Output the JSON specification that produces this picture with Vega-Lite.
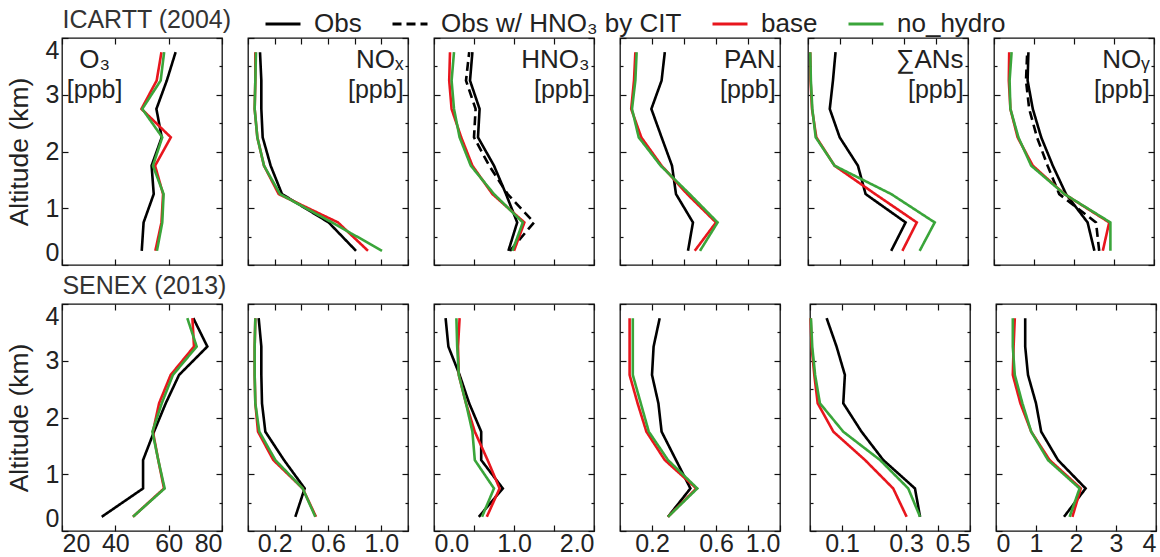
{
"$schema":"https://vega.github.io/schema/vega-lite/v6.json",
"padding":{"left":5,"top":5,"right":0,"bottom":5},
"background":"white",
"datasets":{"profiles":[
{"camp":"ICARTT","spec":"O3","ser":"Obs","alt":0.25,"val":49.9},{"camp":"ICARTT","spec":"O3","ser":"Obs","alt":0.75,"val":50.6},{"camp":"ICARTT","spec":"O3","ser":"Obs","alt":1.25,"val":54.4},{"camp":"ICARTT","spec":"O3","ser":"Obs","alt":1.75,"val":53.6},{"camp":"ICARTT","spec":"O3","ser":"Obs","alt":2.25,"val":57.4},{"camp":"ICARTT","spec":"O3","ser":"Obs","alt":2.75,"val":55.4},{"camp":"ICARTT","spec":"O3","ser":"Obs","alt":3.25,"val":59.3},{"camp":"ICARTT","spec":"O3","ser":"Obs","alt":3.75,"val":62.6},
{"camp":"ICARTT","spec":"O3","ser":"base","alt":0.25,"val":55.0},{"camp":"ICARTT","spec":"O3","ser":"base","alt":0.75,"val":57.3},{"camp":"ICARTT","spec":"O3","ser":"base","alt":1.25,"val":57.9},{"camp":"ICARTT","spec":"O3","ser":"base","alt":1.75,"val":54.9},{"camp":"ICARTT","spec":"O3","ser":"base","alt":2.25,"val":60.8},{"camp":"ICARTT","spec":"O3","ser":"base","alt":2.75,"val":49.8},{"camp":"ICARTT","spec":"O3","ser":"base","alt":3.25,"val":55.5},{"camp":"ICARTT","spec":"O3","ser":"base","alt":3.75,"val":57.3},
{"camp":"ICARTT","spec":"O3","ser":"no_hydro","alt":0.25,"val":55.6},{"camp":"ICARTT","spec":"O3","ser":"no_hydro","alt":0.75,"val":57.6},{"camp":"ICARTT","spec":"O3","ser":"no_hydro","alt":1.25,"val":58.1},{"camp":"ICARTT","spec":"O3","ser":"no_hydro","alt":1.75,"val":54.1},{"camp":"ICARTT","spec":"O3","ser":"no_hydro","alt":2.25,"val":57.6},{"camp":"ICARTT","spec":"O3","ser":"no_hydro","alt":2.75,"val":50.1},{"camp":"ICARTT","spec":"O3","ser":"no_hydro","alt":3.25,"val":57.0},{"camp":"ICARTT","spec":"O3","ser":"no_hydro","alt":3.75,"val":58.3},
{"camp":"ICARTT","spec":"NOx","ser":"Obs","alt":0.25,"val":0.81},{"camp":"ICARTT","spec":"NOx","ser":"Obs","alt":0.75,"val":0.605},{"camp":"ICARTT","spec":"NOx","ser":"Obs","alt":1.25,"val":0.255},{"camp":"ICARTT","spec":"NOx","ser":"Obs","alt":1.75,"val":0.17},{"camp":"ICARTT","spec":"NOx","ser":"Obs","alt":2.25,"val":0.11},{"camp":"ICARTT","spec":"NOx","ser":"Obs","alt":2.75,"val":0.10},{"camp":"ICARTT","spec":"NOx","ser":"Obs","alt":3.25,"val":0.10},{"camp":"ICARTT","spec":"NOx","ser":"Obs","alt":3.75,"val":0.09},
{"camp":"ICARTT","spec":"NOx","ser":"base","alt":0.25,"val":0.90},{"camp":"ICARTT","spec":"NOx","ser":"base","alt":0.75,"val":0.675},{"camp":"ICARTT","spec":"NOx","ser":"base","alt":1.25,"val":0.23},{"camp":"ICARTT","spec":"NOx","ser":"base","alt":1.75,"val":0.12},{"camp":"ICARTT","spec":"NOx","ser":"base","alt":2.25,"val":0.07},{"camp":"ICARTT","spec":"NOx","ser":"base","alt":2.75,"val":0.05},{"camp":"ICARTT","spec":"NOx","ser":"base","alt":3.25,"val":0.055},{"camp":"ICARTT","spec":"NOx","ser":"base","alt":3.75,"val":0.055},
{"camp":"ICARTT","spec":"NOx","ser":"no_hydro","alt":0.25,"val":1.005},{"camp":"ICARTT","spec":"NOx","ser":"no_hydro","alt":0.75,"val":0.63},{"camp":"ICARTT","spec":"NOx","ser":"no_hydro","alt":1.25,"val":0.24},{"camp":"ICARTT","spec":"NOx","ser":"no_hydro","alt":1.75,"val":0.12},{"camp":"ICARTT","spec":"NOx","ser":"no_hydro","alt":2.25,"val":0.07},{"camp":"ICARTT","spec":"NOx","ser":"no_hydro","alt":2.75,"val":0.05},{"camp":"ICARTT","spec":"NOx","ser":"no_hydro","alt":3.25,"val":0.055},{"camp":"ICARTT","spec":"NOx","ser":"no_hydro","alt":3.75,"val":0.06},
{"camp":"ICARTT","spec":"HNO3","ser":"Obs","alt":0.25,"val":0.93},{"camp":"ICARTT","spec":"HNO3","ser":"Obs","alt":0.75,"val":1.04},{"camp":"ICARTT","spec":"HNO3","ser":"Obs","alt":1.25,"val":0.90},{"camp":"ICARTT","spec":"HNO3","ser":"Obs","alt":1.75,"val":0.75},{"camp":"ICARTT","spec":"HNO3","ser":"Obs","alt":2.25,"val":0.55},{"camp":"ICARTT","spec":"HNO3","ser":"Obs","alt":2.75,"val":0.57},{"camp":"ICARTT","spec":"HNO3","ser":"Obs","alt":3.25,"val":0.45},{"camp":"ICARTT","spec":"HNO3","ser":"Obs","alt":3.75,"val":0.48},
{"camp":"ICARTT","spec":"HNO3","ser":"Obs w/ HNO₃ by CIT","alt":0.25,"val":0.95},{"camp":"ICARTT","spec":"HNO3","ser":"Obs w/ HNO₃ by CIT","alt":0.75,"val":1.25},{"camp":"ICARTT","spec":"HNO3","ser":"Obs w/ HNO₃ by CIT","alt":1.25,"val":0.92},{"camp":"ICARTT","spec":"HNO3","ser":"Obs w/ HNO₃ by CIT","alt":1.75,"val":0.69},{"camp":"ICARTT","spec":"HNO3","ser":"Obs w/ HNO₃ by CIT","alt":2.25,"val":0.50},{"camp":"ICARTT","spec":"HNO3","ser":"Obs w/ HNO₃ by CIT","alt":2.75,"val":0.52},{"camp":"ICARTT","spec":"HNO3","ser":"Obs w/ HNO₃ by CIT","alt":3.25,"val":0.40},{"camp":"ICARTT","spec":"HNO3","ser":"Obs w/ HNO₃ by CIT","alt":3.75,"val":0.44},
{"camp":"ICARTT","spec":"HNO3","ser":"base","alt":0.25,"val":1.00},{"camp":"ICARTT","spec":"HNO3","ser":"base","alt":0.75,"val":1.13},{"camp":"ICARTT","spec":"HNO3","ser":"base","alt":1.25,"val":0.73},{"camp":"ICARTT","spec":"HNO3","ser":"base","alt":1.75,"val":0.48},{"camp":"ICARTT","spec":"HNO3","ser":"base","alt":2.25,"val":0.34},{"camp":"ICARTT","spec":"HNO3","ser":"base","alt":2.75,"val":0.22},{"camp":"ICARTT","spec":"HNO3","ser":"base","alt":3.25,"val":0.19},{"camp":"ICARTT","spec":"HNO3","ser":"base","alt":3.75,"val":0.20},
{"camp":"ICARTT","spec":"HNO3","ser":"no_hydro","alt":0.25,"val":0.98},{"camp":"ICARTT","spec":"HNO3","ser":"no_hydro","alt":0.75,"val":1.11},{"camp":"ICARTT","spec":"HNO3","ser":"no_hydro","alt":1.25,"val":0.75},{"camp":"ICARTT","spec":"HNO3","ser":"no_hydro","alt":1.75,"val":0.46},{"camp":"ICARTT","spec":"HNO3","ser":"no_hydro","alt":2.25,"val":0.32},{"camp":"ICARTT","spec":"HNO3","ser":"no_hydro","alt":2.75,"val":0.25},{"camp":"ICARTT","spec":"HNO3","ser":"no_hydro","alt":3.25,"val":0.22},{"camp":"ICARTT","spec":"HNO3","ser":"no_hydro","alt":3.75,"val":0.25},
{"camp":"ICARTT","spec":"PAN","ser":"Obs","alt":0.25,"val":0.425},{"camp":"ICARTT","spec":"PAN","ser":"Obs","alt":0.75,"val":0.456},{"camp":"ICARTT","spec":"PAN","ser":"Obs","alt":1.25,"val":0.35},{"camp":"ICARTT","spec":"PAN","ser":"Obs","alt":1.75,"val":0.325},{"camp":"ICARTT","spec":"PAN","ser":"Obs","alt":2.25,"val":0.26},{"camp":"ICARTT","spec":"PAN","ser":"Obs","alt":2.75,"val":0.196},{"camp":"ICARTT","spec":"PAN","ser":"Obs","alt":3.25,"val":0.26},{"camp":"ICARTT","spec":"PAN","ser":"Obs","alt":3.75,"val":0.28},
{"camp":"ICARTT","spec":"PAN","ser":"base","alt":0.25,"val":0.467},{"camp":"ICARTT","spec":"PAN","ser":"base","alt":0.75,"val":0.60},{"camp":"ICARTT","spec":"PAN","ser":"base","alt":1.25,"val":0.42},{"camp":"ICARTT","spec":"PAN","ser":"base","alt":1.75,"val":0.26},{"camp":"ICARTT","spec":"PAN","ser":"base","alt":2.25,"val":0.133},{"camp":"ICARTT","spec":"PAN","ser":"base","alt":2.75,"val":0.07},{"camp":"ICARTT","spec":"PAN","ser":"base","alt":3.25,"val":0.0875},{"camp":"ICARTT","spec":"PAN","ser":"base","alt":3.75,"val":0.096},
{"camp":"ICARTT","spec":"PAN","ser":"no_hydro","alt":0.25,"val":0.50},{"camp":"ICARTT","spec":"PAN","ser":"no_hydro","alt":0.75,"val":0.61},{"camp":"ICARTT","spec":"PAN","ser":"no_hydro","alt":1.25,"val":0.435},{"camp":"ICARTT","spec":"PAN","ser":"no_hydro","alt":1.75,"val":0.254},{"camp":"ICARTT","spec":"PAN","ser":"no_hydro","alt":2.25,"val":0.117},{"camp":"ICARTT","spec":"PAN","ser":"no_hydro","alt":2.75,"val":0.075},{"camp":"ICARTT","spec":"PAN","ser":"no_hydro","alt":3.25,"val":0.096},{"camp":"ICARTT","spec":"PAN","ser":"no_hydro","alt":3.75,"val":0.104},
{"camp":"ICARTT","spec":"ANs","ser":"Obs","alt":0.25,"val":0.26},{"camp":"ICARTT","spec":"ANs","ser":"Obs","alt":0.75,"val":0.305},{"camp":"ICARTT","spec":"ANs","ser":"Obs","alt":1.25,"val":0.18},{"camp":"ICARTT","spec":"ANs","ser":"Obs","alt":1.75,"val":0.156},{"camp":"ICARTT","spec":"ANs","ser":"Obs","alt":2.25,"val":0.099},{"camp":"ICARTT","spec":"ANs","ser":"Obs","alt":2.75,"val":0.068},{"camp":"ICARTT","spec":"ANs","ser":"Obs","alt":3.25,"val":0.078},{"camp":"ICARTT","spec":"ANs","ser":"Obs","alt":3.75,"val":0.086},
{"camp":"ICARTT","spec":"ANs","ser":"base","alt":0.25,"val":0.295},{"camp":"ICARTT","spec":"ANs","ser":"base","alt":0.75,"val":0.34},{"camp":"ICARTT","spec":"ANs","ser":"base","alt":1.25,"val":0.21},{"camp":"ICARTT","spec":"ANs","ser":"base","alt":1.75,"val":0.083},{"camp":"ICARTT","spec":"ANs","ser":"base","alt":2.25,"val":0.026},{"camp":"ICARTT","spec":"ANs","ser":"base","alt":2.75,"val":0.0125},{"camp":"ICARTT","spec":"ANs","ser":"base","alt":3.25,"val":0.008},{"camp":"ICARTT","spec":"ANs","ser":"base","alt":3.75,"val":0.007},
{"camp":"ICARTT","spec":"ANs","ser":"no_hydro","alt":0.25,"val":0.349},{"camp":"ICARTT","spec":"ANs","ser":"no_hydro","alt":0.75,"val":0.396},{"camp":"ICARTT","spec":"ANs","ser":"no_hydro","alt":1.25,"val":0.26},{"camp":"ICARTT","spec":"ANs","ser":"no_hydro","alt":1.75,"val":0.083},{"camp":"ICARTT","spec":"ANs","ser":"no_hydro","alt":2.25,"val":0.024},{"camp":"ICARTT","spec":"ANs","ser":"no_hydro","alt":2.75,"val":0.0135},{"camp":"ICARTT","spec":"ANs","ser":"no_hydro","alt":3.25,"val":0.009},{"camp":"ICARTT","spec":"ANs","ser":"no_hydro","alt":3.75,"val":0.007},
{"camp":"ICARTT","spec":"NOy","ser":"Obs","alt":0.25,"val":2.51},{"camp":"ICARTT","spec":"NOy","ser":"Obs","alt":0.75,"val":2.34},{"camp":"ICARTT","spec":"NOy","ser":"Obs","alt":1.25,"val":1.80},{"camp":"ICARTT","spec":"NOy","ser":"Obs","alt":1.75,"val":1.47},{"camp":"ICARTT","spec":"NOy","ser":"Obs","alt":2.25,"val":1.18},{"camp":"ICARTT","spec":"NOy","ser":"Obs","alt":2.75,"val":0.97},{"camp":"ICARTT","spec":"NOy","ser":"Obs","alt":3.25,"val":0.84},{"camp":"ICARTT","spec":"NOy","ser":"Obs","alt":3.75,"val":0.86},
{"camp":"ICARTT","spec":"NOy","ser":"Obs w/ HNO₃ by CIT","alt":0.25,"val":2.63},{"camp":"ICARTT","spec":"NOy","ser":"Obs w/ HNO₃ by CIT","alt":0.75,"val":2.55},{"camp":"ICARTT","spec":"NOy","ser":"Obs w/ HNO₃ by CIT","alt":1.25,"val":1.63},{"camp":"ICARTT","spec":"NOy","ser":"Obs w/ HNO₃ by CIT","alt":1.75,"val":1.34},{"camp":"ICARTT","spec":"NOy","ser":"Obs w/ HNO₃ by CIT","alt":2.25,"val":1.075},{"camp":"ICARTT","spec":"NOy","ser":"Obs w/ HNO₃ by CIT","alt":2.75,"val":0.88},{"camp":"ICARTT","spec":"NOy","ser":"Obs w/ HNO₃ by CIT","alt":3.25,"val":0.80},{"camp":"ICARTT","spec":"NOy","ser":"Obs w/ HNO₃ by CIT","alt":3.75,"val":0.83},
{"camp":"ICARTT","spec":"NOy","ser":"base","alt":0.25,"val":2.72},{"camp":"ICARTT","spec":"NOy","ser":"base","alt":0.75,"val":2.88},{"camp":"ICARTT","spec":"NOy","ser":"base","alt":1.25,"val":1.76},{"camp":"ICARTT","spec":"NOy","ser":"base","alt":1.75,"val":0.97},{"camp":"ICARTT","spec":"NOy","ser":"base","alt":2.25,"val":0.59},{"camp":"ICARTT","spec":"NOy","ser":"base","alt":2.75,"val":0.41},{"camp":"ICARTT","spec":"NOy","ser":"base","alt":3.25,"val":0.37},{"camp":"ICARTT","spec":"NOy","ser":"base","alt":3.75,"val":0.38},
{"camp":"ICARTT","spec":"NOy","ser":"no_hydro","alt":0.25,"val":2.91},{"camp":"ICARTT","spec":"NOy","ser":"no_hydro","alt":0.75,"val":2.91},{"camp":"ICARTT","spec":"NOy","ser":"no_hydro","alt":1.25,"val":1.76},{"camp":"ICARTT","spec":"NOy","ser":"no_hydro","alt":1.75,"val":0.93},{"camp":"ICARTT","spec":"NOy","ser":"no_hydro","alt":2.25,"val":0.61},{"camp":"ICARTT","spec":"NOy","ser":"no_hydro","alt":2.75,"val":0.41},{"camp":"ICARTT","spec":"NOy","ser":"no_hydro","alt":3.25,"val":0.39},{"camp":"ICARTT","spec":"NOy","ser":"no_hydro","alt":3.75,"val":0.44},
{"camp":"SENEX","spec":"O3","ser":"Obs","alt":0.25,"val":34.9},{"camp":"SENEX","spec":"O3","ser":"Obs","alt":0.75,"val":50.4},{"camp":"SENEX","spec":"O3","ser":"Obs","alt":1.25,"val":50.4},{"camp":"SENEX","spec":"O3","ser":"Obs","alt":1.75,"val":54.5},{"camp":"SENEX","spec":"O3","ser":"Obs","alt":2.25,"val":58.9},{"camp":"SENEX","spec":"O3","ser":"Obs","alt":2.75,"val":63.9},{"camp":"SENEX","spec":"O3","ser":"Obs","alt":3.25,"val":74.5},{"camp":"SENEX","spec":"O3","ser":"Obs","alt":3.75,"val":69.25},
{"camp":"SENEX","spec":"O3","ser":"base","alt":0.25,"val":46.6},{"camp":"SENEX","spec":"O3","ser":"base","alt":0.75,"val":58.25},{"camp":"SENEX","spec":"O3","ser":"base","alt":1.25,"val":56.1},{"camp":"SENEX","spec":"O3","ser":"base","alt":1.75,"val":54.1},{"camp":"SENEX","spec":"O3","ser":"base","alt":2.25,"val":56.4},{"camp":"SENEX","spec":"O3","ser":"base","alt":2.75,"val":60.75},{"camp":"SENEX","spec":"O3","ser":"base","alt":3.25,"val":69.5},{"camp":"SENEX","spec":"O3","ser":"base","alt":3.75,"val":68.9},
{"camp":"SENEX","spec":"O3","ser":"no_hydro","alt":0.25,"val":46.6},{"camp":"SENEX","spec":"O3","ser":"no_hydro","alt":0.75,"val":58.5},{"camp":"SENEX","spec":"O3","ser":"no_hydro","alt":1.25,"val":56.1},{"camp":"SENEX","spec":"O3","ser":"no_hydro","alt":1.75,"val":53.9},{"camp":"SENEX","spec":"O3","ser":"no_hydro","alt":2.25,"val":57.4},{"camp":"SENEX","spec":"O3","ser":"no_hydro","alt":2.75,"val":61.6},{"camp":"SENEX","spec":"O3","ser":"no_hydro","alt":3.25,"val":70.5},{"camp":"SENEX","spec":"O3","ser":"no_hydro","alt":3.75,"val":67.0},
{"camp":"SENEX","spec":"NOx","ser":"Obs","alt":0.25,"val":0.355},{"camp":"SENEX","spec":"NOx","ser":"Obs","alt":0.75,"val":0.425},{"camp":"SENEX","spec":"NOx","ser":"Obs","alt":1.25,"val":0.27},{"camp":"SENEX","spec":"NOx","ser":"Obs","alt":1.75,"val":0.13},{"camp":"SENEX","spec":"NOx","ser":"Obs","alt":2.25,"val":0.105},{"camp":"SENEX","spec":"NOx","ser":"Obs","alt":2.75,"val":0.10},{"camp":"SENEX","spec":"NOx","ser":"Obs","alt":3.25,"val":0.10},{"camp":"SENEX","spec":"NOx","ser":"Obs","alt":3.75,"val":0.08},
{"camp":"SENEX","spec":"NOx","ser":"base","alt":0.25,"val":0.51},{"camp":"SENEX","spec":"NOx","ser":"base","alt":0.75,"val":0.41},{"camp":"SENEX","spec":"NOx","ser":"base","alt":1.25,"val":0.19},{"camp":"SENEX","spec":"NOx","ser":"base","alt":1.75,"val":0.075},{"camp":"SENEX","spec":"NOx","ser":"base","alt":2.25,"val":0.055},{"camp":"SENEX","spec":"NOx","ser":"base","alt":2.75,"val":0.05},{"camp":"SENEX","spec":"NOx","ser":"base","alt":3.25,"val":0.05},{"camp":"SENEX","spec":"NOx","ser":"base","alt":3.75,"val":0.055},
{"camp":"SENEX","spec":"NOx","ser":"no_hydro","alt":0.25,"val":0.505},{"camp":"SENEX","spec":"NOx","ser":"no_hydro","alt":0.75,"val":0.41},{"camp":"SENEX","spec":"NOx","ser":"no_hydro","alt":1.25,"val":0.205},{"camp":"SENEX","spec":"NOx","ser":"no_hydro","alt":1.75,"val":0.085},{"camp":"SENEX","spec":"NOx","ser":"no_hydro","alt":2.25,"val":0.055},{"camp":"SENEX","spec":"NOx","ser":"no_hydro","alt":2.75,"val":0.05},{"camp":"SENEX","spec":"NOx","ser":"no_hydro","alt":3.25,"val":0.05},{"camp":"SENEX","spec":"NOx","ser":"no_hydro","alt":3.75,"val":0.055},
{"camp":"SENEX","spec":"HNO3","ser":"Obs","alt":0.25,"val":0.56},{"camp":"SENEX","spec":"HNO3","ser":"Obs","alt":0.75,"val":0.86},{"camp":"SENEX","spec":"HNO3","ser":"Obs","alt":1.25,"val":0.59},{"camp":"SENEX","spec":"HNO3","ser":"Obs","alt":1.75,"val":0.59},{"camp":"SENEX","spec":"HNO3","ser":"Obs","alt":2.25,"val":0.44},{"camp":"SENEX","spec":"HNO3","ser":"Obs","alt":2.75,"val":0.32},{"camp":"SENEX","spec":"HNO3","ser":"Obs","alt":3.25,"val":0.18},{"camp":"SENEX","spec":"HNO3","ser":"Obs","alt":3.75,"val":0.145},
{"camp":"SENEX","spec":"HNO3","ser":"base","alt":0.25,"val":0.66},{"camp":"SENEX","spec":"HNO3","ser":"base","alt":0.75,"val":0.82},{"camp":"SENEX","spec":"HNO3","ser":"base","alt":1.25,"val":0.67},{"camp":"SENEX","spec":"HNO3","ser":"base","alt":1.75,"val":0.51},{"camp":"SENEX","spec":"HNO3","ser":"base","alt":2.25,"val":0.40},{"camp":"SENEX","spec":"HNO3","ser":"base","alt":2.75,"val":0.31},{"camp":"SENEX","spec":"HNO3","ser":"base","alt":3.25,"val":0.30},{"camp":"SENEX","spec":"HNO3","ser":"base","alt":3.75,"val":0.32},
{"camp":"SENEX","spec":"HNO3","ser":"no_hydro","alt":0.25,"val":0.60},{"camp":"SENEX","spec":"HNO3","ser":"no_hydro","alt":0.75,"val":0.75},{"camp":"SENEX","spec":"HNO3","ser":"no_hydro","alt":1.25,"val":0.51},{"camp":"SENEX","spec":"HNO3","ser":"no_hydro","alt":1.75,"val":0.48},{"camp":"SENEX","spec":"HNO3","ser":"no_hydro","alt":2.25,"val":0.40},{"camp":"SENEX","spec":"HNO3","ser":"no_hydro","alt":2.75,"val":0.31},{"camp":"SENEX","spec":"HNO3","ser":"no_hydro","alt":3.25,"val":0.29},{"camp":"SENEX","spec":"HNO3","ser":"no_hydro","alt":3.75,"val":0.28},
{"camp":"SENEX","spec":"PAN","ser":"Obs","alt":0.25,"val":0.30},{"camp":"SENEX","spec":"PAN","ser":"Obs","alt":0.75,"val":0.44},{"camp":"SENEX","spec":"PAN","ser":"Obs","alt":1.25,"val":0.35},{"camp":"SENEX","spec":"PAN","ser":"Obs","alt":1.75,"val":0.26},{"camp":"SENEX","spec":"PAN","ser":"Obs","alt":2.25,"val":0.24},{"camp":"SENEX","spec":"PAN","ser":"Obs","alt":2.75,"val":0.20},{"camp":"SENEX","spec":"PAN","ser":"Obs","alt":3.25,"val":0.21},{"camp":"SENEX","spec":"PAN","ser":"Obs","alt":3.75,"val":0.248},
{"camp":"SENEX","spec":"PAN","ser":"base","alt":0.25,"val":0.30},{"camp":"SENEX","spec":"PAN","ser":"base","alt":0.75,"val":0.477},{"camp":"SENEX","spec":"PAN","ser":"base","alt":1.25,"val":0.28},{"camp":"SENEX","spec":"PAN","ser":"base","alt":1.75,"val":0.165},{"camp":"SENEX","spec":"PAN","ser":"base","alt":2.25,"val":0.11},{"camp":"SENEX","spec":"PAN","ser":"base","alt":2.75,"val":0.06},{"camp":"SENEX","spec":"PAN","ser":"base","alt":3.25,"val":0.06},{"camp":"SENEX","spec":"PAN","ser":"base","alt":3.75,"val":0.06},
{"camp":"SENEX","spec":"PAN","ser":"no_hydro","alt":0.25,"val":0.30},{"camp":"SENEX","spec":"PAN","ser":"no_hydro","alt":0.75,"val":0.483},{"camp":"SENEX","spec":"PAN","ser":"no_hydro","alt":1.25,"val":0.30},{"camp":"SENEX","spec":"PAN","ser":"no_hydro","alt":1.75,"val":0.18},{"camp":"SENEX","spec":"PAN","ser":"no_hydro","alt":2.25,"val":0.13},{"camp":"SENEX","spec":"PAN","ser":"no_hydro","alt":2.75,"val":0.08},{"camp":"SENEX","spec":"PAN","ser":"no_hydro","alt":3.25,"val":0.08},{"camp":"SENEX","spec":"PAN","ser":"no_hydro","alt":3.75,"val":0.08},
{"camp":"SENEX","spec":"ANs","ser":"Obs","alt":0.25,"val":0.344},{"camp":"SENEX","spec":"ANs","ser":"Obs","alt":0.75,"val":0.328},{"camp":"SENEX","spec":"ANs","ser":"Obs","alt":1.25,"val":0.229},{"camp":"SENEX","spec":"ANs","ser":"Obs","alt":1.75,"val":0.161},{"camp":"SENEX","spec":"ANs","ser":"Obs","alt":2.25,"val":0.104},{"camp":"SENEX","spec":"ANs","ser":"Obs","alt":2.75,"val":0.109},{"camp":"SENEX","spec":"ANs","ser":"Obs","alt":3.25,"val":0.083},{"camp":"SENEX","spec":"ANs","ser":"Obs","alt":3.75,"val":0.052},
{"camp":"SENEX","spec":"ANs","ser":"base","alt":0.25,"val":0.302},{"camp":"SENEX","spec":"ANs","ser":"base","alt":0.75,"val":0.26},{"camp":"SENEX","spec":"ANs","ser":"base","alt":1.25,"val":0.172},{"camp":"SENEX","spec":"ANs","ser":"base","alt":1.75,"val":0.073},{"camp":"SENEX","spec":"ANs","ser":"base","alt":2.25,"val":0.024},{"camp":"SENEX","spec":"ANs","ser":"base","alt":2.75,"val":0.0135},{"camp":"SENEX","spec":"ANs","ser":"base","alt":3.25,"val":0.005},{"camp":"SENEX","spec":"ANs","ser":"base","alt":3.75,"val":0.002},
{"camp":"SENEX","spec":"ANs","ser":"no_hydro","alt":0.25,"val":0.344},{"camp":"SENEX","spec":"ANs","ser":"no_hydro","alt":0.75,"val":0.307},{"camp":"SENEX","spec":"ANs","ser":"no_hydro","alt":1.25,"val":0.219},{"camp":"SENEX","spec":"ANs","ser":"no_hydro","alt":1.75,"val":0.104},{"camp":"SENEX","spec":"ANs","ser":"no_hydro","alt":2.25,"val":0.031},{"camp":"SENEX","spec":"ANs","ser":"no_hydro","alt":2.75,"val":0.016},{"camp":"SENEX","spec":"ANs","ser":"no_hydro","alt":3.25,"val":0.007},{"camp":"SENEX","spec":"ANs","ser":"no_hydro","alt":3.75,"val":0.003},
{"camp":"SENEX","spec":"NOy","ser":"Obs","alt":0.25,"val":1.70},{"camp":"SENEX","spec":"NOy","ser":"Obs","alt":0.75,"val":2.24},{"camp":"SENEX","spec":"NOy","ser":"Obs","alt":1.25,"val":1.55},{"camp":"SENEX","spec":"NOy","ser":"Obs","alt":1.75,"val":1.13},{"camp":"SENEX","spec":"NOy","ser":"Obs","alt":2.25,"val":1.00},{"camp":"SENEX","spec":"NOy","ser":"Obs","alt":2.75,"val":0.80},{"camp":"SENEX","spec":"NOy","ser":"Obs","alt":3.25,"val":0.73},{"camp":"SENEX","spec":"NOy","ser":"Obs","alt":3.75,"val":0.73},
{"camp":"SENEX","spec":"NOy","ser":"base","alt":0.25,"val":1.91},{"camp":"SENEX","spec":"NOy","ser":"base","alt":0.75,"val":2.12},{"camp":"SENEX","spec":"NOy","ser":"base","alt":1.25,"val":1.34},{"camp":"SENEX","spec":"NOy","ser":"base","alt":1.75,"val":0.88},{"camp":"SENEX","spec":"NOy","ser":"base","alt":2.25,"val":0.61},{"camp":"SENEX","spec":"NOy","ser":"base","alt":2.75,"val":0.42},{"camp":"SENEX","spec":"NOy","ser":"base","alt":3.25,"val":0.44},{"camp":"SENEX","spec":"NOy","ser":"base","alt":3.75,"val":0.47},
{"camp":"SENEX","spec":"NOy","ser":"no_hydro","alt":0.25,"val":1.84},{"camp":"SENEX","spec":"NOy","ser":"no_hydro","alt":0.75,"val":2.09},{"camp":"SENEX","spec":"NOy","ser":"no_hydro","alt":1.25,"val":1.30},{"camp":"SENEX","spec":"NOy","ser":"no_hydro","alt":1.75,"val":0.88},{"camp":"SENEX","spec":"NOy","ser":"no_hydro","alt":2.25,"val":0.66},{"camp":"SENEX","spec":"NOy","ser":"no_hydro","alt":2.75,"val":0.47},{"camp":"SENEX","spec":"NOy","ser":"no_hydro","alt":3.25,"val":0.42},{"camp":"SENEX","spec":"NOy","ser":"no_hydro","alt":3.75,"val":0.42}
]},
"data":{"name":"profiles"},
"spacing":6,
"vconcat":[
{"title":{"text":"ICARTT (2004)","anchor":"start","offset":4,"dx":57},
 "spacing":22,
 "hconcat":[
  {"width":160,"height":227,
   "title":{"text":"O₃","subtitle":"[ppb]","anchor":"end","align":"center","dx":-128,"offset":-66,"fontSize":26,"subtitleFontSize":25,"color":"#222","subtitleColor":"#222","subtitlePadding":5},
   "transform":[{"filter":"datum.camp === 'ICARTT' && datum.spec === 'O3'"}],
   "layer":[
    {"mark":{"type":"line","strokeWidth":2.6},
     "encoding":{
      "x":{"field":"val","type":"quantitative","title":null,"scale":{"domain":[20,80],"nice":false,"zero":false},"axis":{"orient":"bottom","labels":false,"tickValues":[20,22,24,26,28,30,32,34,36,38,40,42,44,46,48,50,52,54,56,58,60,62,64,66,68,70,72,74,76,78,80],"tickSize":{"condition":{"test":"datum.value % 10 === 0","value":-6},"value":-3}}},
      "y":{"field":"alt","type":"quantitative","scale":{"domain":[0,4],"nice":false},"axis":{"orient":"left","title":"Altitude (km)","tickValues":[0,0.25,0.5,0.75,1,1.25,1.5,1.75,2,2.25,2.5,2.75,3,3.25,3.5,3.75,4],"tickSize":{"condition":{"test":"datum.value % 1 === 0","value":-6},"value":-3},"labelExpr":"datum.value % 1 === 0 ? datum.label : ''","format":"d"}},
      "color":{"field":"ser","type":"nominal","title":null,"scale":{"domain":["Obs","Obs w/ HNO₃ by CIT","base","no_hydro"],"range":["#000000","#000000","#e8161d","#3aa53a"]}},
      "strokeDash":{"field":"ser","type":"nominal","title":null,"scale":{"domain":["Obs","Obs w/ HNO₃ by CIT","base","no_hydro"],"range":[[1,0],[9,5],[1,0],[1,0]]}},
      "order":{"field":"alt","type":"quantitative"}}},
    {"mark":{"type":"point","opacity":0},
     "encoding":{
      "x":{"field":"val","type":"quantitative","title":null,"axis":{"orient":"top","labels":false,"tickValues":[20,22,24,26,28,30,32,34,36,38,40,42,44,46,48,50,52,54,56,58,60,62,64,66,68,70,72,74,76,78,80],"tickSize":{"condition":{"test":"datum.value % 10 === 0","value":-6},"value":-3}}},
      "y":{"field":"alt","type":"quantitative","title":null,"axis":{"orient":"right","labels":false,"tickValues":[0,0.25,0.5,0.75,1,1.25,1.5,1.75,2,2.25,2.5,2.75,3,3.25,3.5,3.75,4],"tickSize":{"condition":{"test":"datum.value % 1 === 0","value":-6},"value":-3}}}}}
   ],
   "resolve":{"axis":{"x":"independent","y":"independent"}}
  },
  {"width":160,"height":227,
   "title":{"text":"NOₓ","subtitle":"[ppb]","anchor":"end","align":"right","dx":-5,"offset":-66,"fontSize":26,"subtitleFontSize":25,"color":"#222","subtitleColor":"#222","subtitlePadding":5},
   "transform":[{"filter":"datum.camp === 'ICARTT' && datum.spec === 'NOx'"}],
   "layer":[
    {"mark":{"type":"line","strokeWidth":2.6},
     "encoding":{
      "x":{"field":"val","type":"quantitative","title":null,"scale":{"domain":[0,1.2],"nice":false,"zero":false},"axis":{"orient":"bottom","labels":false,"tickValues":[0,0.05,0.1,0.15,0.2,0.25,0.3,0.35,0.4,0.45,0.5,0.55,0.6,0.65,0.7,0.75,0.8,0.85,0.9,0.95,1,1.05,1.1,1.15,1.2],"tickSize":{"condition":{"test":"abs(datum.value*5 - round(datum.value*5)) < 1e-6","value":-6},"value":-3}}},
      "y":{"field":"alt","type":"quantitative","scale":{"domain":[0,4],"nice":false},"axis":{"orient":"left","title":null,"labels":false,"tickValues":[0,0.25,0.5,0.75,1,1.25,1.5,1.75,2,2.25,2.5,2.75,3,3.25,3.5,3.75,4],"tickSize":{"condition":{"test":"datum.value % 1 === 0","value":-6},"value":-3}}},
      "color":{"field":"ser","type":"nominal","title":null,"scale":{"domain":["Obs","Obs w/ HNO₃ by CIT","base","no_hydro"],"range":["#000000","#000000","#e8161d","#3aa53a"]}},
      "strokeDash":{"field":"ser","type":"nominal","title":null,"scale":{"domain":["Obs","Obs w/ HNO₃ by CIT","base","no_hydro"],"range":[[1,0],[9,5],[1,0],[1,0]]}},
      "order":{"field":"alt","type":"quantitative"}}},
    {"mark":{"type":"point","opacity":0},
     "encoding":{
      "x":{"field":"val","type":"quantitative","title":null,"axis":{"orient":"top","labels":false,"tickValues":[0,0.05,0.1,0.15,0.2,0.25,0.3,0.35,0.4,0.45,0.5,0.55,0.6,0.65,0.7,0.75,0.8,0.85,0.9,0.95,1,1.05,1.1,1.15,1.2],"tickSize":{"condition":{"test":"abs(datum.value*5 - round(datum.value*5)) < 1e-6","value":-6},"value":-3}}},
      "y":{"field":"alt","type":"quantitative","title":null,"axis":{"orient":"right","labels":false,"tickValues":[0,0.25,0.5,0.75,1,1.25,1.5,1.75,2,2.25,2.5,2.75,3,3.25,3.5,3.75,4],"tickSize":{"condition":{"test":"datum.value % 1 === 0","value":-6},"value":-3}}}}}
   ],
   "resolve":{"axis":{"x":"independent","y":"independent"}}
  },
  {"width":160,"height":227,
   "title":{"text":"HNO₃","subtitle":"[ppb]","anchor":"end","align":"right","dx":-5,"offset":-66,"fontSize":26,"subtitleFontSize":25,"color":"#222","subtitleColor":"#222","subtitlePadding":5},
   "transform":[{"filter":"datum.camp === 'ICARTT' && datum.spec === 'HNO3'"}],
   "layer":[
    {"mark":{"type":"line","strokeWidth":2.6},
     "encoding":{
      "x":{"field":"val","type":"quantitative","title":null,"scale":{"domain":[0,2],"nice":false,"zero":false},"axis":{"orient":"bottom","labels":false,"tickValues":[0,0.1,0.2,0.3,0.4,0.5,0.6,0.7,0.8,0.9,1,1.1,1.2,1.3,1.4,1.5,1.6,1.7,1.8,1.9,2],"tickSize":{"condition":{"test":"abs(datum.value*2 - round(datum.value*2)) < 1e-6","value":-6},"value":-3}}},
      "y":{"field":"alt","type":"quantitative","scale":{"domain":[0,4],"nice":false},"axis":{"orient":"left","title":null,"labels":false,"tickValues":[0,0.25,0.5,0.75,1,1.25,1.5,1.75,2,2.25,2.5,2.75,3,3.25,3.5,3.75,4],"tickSize":{"condition":{"test":"datum.value % 1 === 0","value":-6},"value":-3}}},
      "color":{"field":"ser","type":"nominal","title":null,"scale":{"domain":["Obs","Obs w/ HNO₃ by CIT","base","no_hydro"],"range":["#000000","#000000","#e8161d","#3aa53a"]}},
      "strokeDash":{"field":"ser","type":"nominal","title":null,"scale":{"domain":["Obs","Obs w/ HNO₃ by CIT","base","no_hydro"],"range":[[1,0],[9,5],[1,0],[1,0]]}},
      "order":{"field":"alt","type":"quantitative"}}},
    {"mark":{"type":"point","opacity":0},
     "encoding":{
      "x":{"field":"val","type":"quantitative","title":null,"axis":{"orient":"top","labels":false,"tickValues":[0,0.1,0.2,0.3,0.4,0.5,0.6,0.7,0.8,0.9,1,1.1,1.2,1.3,1.4,1.5,1.6,1.7,1.8,1.9,2],"tickSize":{"condition":{"test":"abs(datum.value*2 - round(datum.value*2)) < 1e-6","value":-6},"value":-3}}},
      "y":{"field":"alt","type":"quantitative","title":null,"axis":{"orient":"right","labels":false,"tickValues":[0,0.25,0.5,0.75,1,1.25,1.5,1.75,2,2.25,2.5,2.75,3,3.25,3.5,3.75,4],"tickSize":{"condition":{"test":"datum.value % 1 === 0","value":-6},"value":-3}}}}}
   ],
   "resolve":{"axis":{"x":"independent","y":"independent"}}
  },
  {"width":160,"height":227,
   "title":{"text":"PAN","subtitle":"[ppb]","anchor":"end","align":"right","dx":-5,"offset":-66,"fontSize":26,"subtitleFontSize":25,"color":"#222","subtitleColor":"#222","subtitlePadding":5},
   "transform":[{"filter":"datum.camp === 'ICARTT' && datum.spec === 'PAN'"}],
   "layer":[
    {"mark":{"type":"line","strokeWidth":2.6},
     "encoding":{
      "x":{"field":"val","type":"quantitative","title":null,"scale":{"domain":[0,1],"nice":false,"zero":false},"axis":{"orient":"bottom","labels":false,"tickValues":[0,0.05,0.1,0.15,0.2,0.25,0.3,0.35,0.4,0.45,0.5,0.55,0.6,0.65,0.7,0.75,0.8,0.85,0.9,0.95,1],"tickSize":{"condition":{"test":"abs(datum.value*5 - round(datum.value*5)) < 1e-6","value":-6},"value":-3}}},
      "y":{"field":"alt","type":"quantitative","scale":{"domain":[0,4],"nice":false},"axis":{"orient":"left","title":null,"labels":false,"tickValues":[0,0.25,0.5,0.75,1,1.25,1.5,1.75,2,2.25,2.5,2.75,3,3.25,3.5,3.75,4],"tickSize":{"condition":{"test":"datum.value % 1 === 0","value":-6},"value":-3}}},
      "color":{"field":"ser","type":"nominal","title":null,"scale":{"domain":["Obs","Obs w/ HNO₃ by CIT","base","no_hydro"],"range":["#000000","#000000","#e8161d","#3aa53a"]}},
      "strokeDash":{"field":"ser","type":"nominal","title":null,"scale":{"domain":["Obs","Obs w/ HNO₃ by CIT","base","no_hydro"],"range":[[1,0],[9,5],[1,0],[1,0]]}},
      "order":{"field":"alt","type":"quantitative"}}},
    {"mark":{"type":"point","opacity":0},
     "encoding":{
      "x":{"field":"val","type":"quantitative","title":null,"axis":{"orient":"top","labels":false,"tickValues":[0,0.05,0.1,0.15,0.2,0.25,0.3,0.35,0.4,0.45,0.5,0.55,0.6,0.65,0.7,0.75,0.8,0.85,0.9,0.95,1],"tickSize":{"condition":{"test":"abs(datum.value*5 - round(datum.value*5)) < 1e-6","value":-6},"value":-3}}},
      "y":{"field":"alt","type":"quantitative","title":null,"axis":{"orient":"right","labels":false,"tickValues":[0,0.25,0.5,0.75,1,1.25,1.5,1.75,2,2.25,2.5,2.75,3,3.25,3.5,3.75,4],"tickSize":{"condition":{"test":"datum.value % 1 === 0","value":-6},"value":-3}}}}}
   ],
   "resolve":{"axis":{"x":"independent","y":"independent"}}
  },
  {"width":160,"height":227,
   "title":{"text":"∑ANs","subtitle":"[ppb]","anchor":"end","align":"right","dx":-5,"offset":-66,"fontSize":26,"subtitleFontSize":25,"color":"#222","subtitleColor":"#222","subtitlePadding":5},
   "transform":[{"filter":"datum.camp === 'ICARTT' && datum.spec === 'ANs'"}],
   "layer":[
    {"mark":{"type":"line","strokeWidth":2.6},
     "encoding":{
      "x":{"field":"val","type":"quantitative","title":null,"scale":{"domain":[0,0.5],"nice":false,"zero":false},"axis":{"orient":"bottom","labels":false,"tickValues":[0,0.01,0.02,0.03,0.04,0.05,0.06,0.07,0.08,0.09,0.1,0.11,0.12,0.13,0.14,0.15,0.16,0.17,0.18,0.19,0.2,0.21,0.22,0.23,0.24,0.25,0.26,0.27,0.28,0.29,0.3,0.31,0.32,0.33,0.34,0.35,0.36,0.37,0.38,0.39,0.4,0.41,0.42,0.43,0.44,0.45,0.46,0.47,0.48,0.49,0.5],"tickSize":{"condition":{"test":"abs(datum.value*10 - round(datum.value*10)) < 1e-6","value":-6},"value":-3}}},
      "y":{"field":"alt","type":"quantitative","scale":{"domain":[0,4],"nice":false},"axis":{"orient":"left","title":null,"labels":false,"tickValues":[0,0.25,0.5,0.75,1,1.25,1.5,1.75,2,2.25,2.5,2.75,3,3.25,3.5,3.75,4],"tickSize":{"condition":{"test":"datum.value % 1 === 0","value":-6},"value":-3}}},
      "color":{"field":"ser","type":"nominal","title":null,"scale":{"domain":["Obs","Obs w/ HNO₃ by CIT","base","no_hydro"],"range":["#000000","#000000","#e8161d","#3aa53a"]}},
      "strokeDash":{"field":"ser","type":"nominal","title":null,"scale":{"domain":["Obs","Obs w/ HNO₃ by CIT","base","no_hydro"],"range":[[1,0],[9,5],[1,0],[1,0]]}},
      "order":{"field":"alt","type":"quantitative"}}},
    {"mark":{"type":"point","opacity":0},
     "encoding":{
      "x":{"field":"val","type":"quantitative","title":null,"axis":{"orient":"top","labels":false,"tickValues":[0,0.01,0.02,0.03,0.04,0.05,0.06,0.07,0.08,0.09,0.1,0.11,0.12,0.13,0.14,0.15,0.16,0.17,0.18,0.19,0.2,0.21,0.22,0.23,0.24,0.25,0.26,0.27,0.28,0.29,0.3,0.31,0.32,0.33,0.34,0.35,0.36,0.37,0.38,0.39,0.4,0.41,0.42,0.43,0.44,0.45,0.46,0.47,0.48,0.49,0.5],"tickSize":{"condition":{"test":"abs(datum.value*10 - round(datum.value*10)) < 1e-6","value":-6},"value":-3}}},
      "y":{"field":"alt","type":"quantitative","title":null,"axis":{"orient":"right","labels":false,"tickValues":[0,0.25,0.5,0.75,1,1.25,1.5,1.75,2,2.25,2.5,2.75,3,3.25,3.5,3.75,4],"tickSize":{"condition":{"test":"datum.value % 1 === 0","value":-6},"value":-3}}}}}
   ],
   "resolve":{"axis":{"x":"independent","y":"independent"}}
  },
  {"width":160,"height":227,
   "title":{"text":"NOᵧ","subtitle":"[ppb]","anchor":"end","align":"right","dx":-5,"offset":-66,"fontSize":26,"subtitleFontSize":25,"color":"#222","subtitleColor":"#222","subtitlePadding":5},
   "transform":[{"filter":"datum.camp === 'ICARTT' && datum.spec === 'NOy'"}],
   "layer":[
    {"mark":{"type":"line","strokeWidth":2.6},
     "encoding":{
      "x":{"field":"val","type":"quantitative","title":null,"scale":{"domain":[0,4],"nice":false,"zero":false},"axis":{"orient":"bottom","labels":false,"tickValues":[0,0.2,0.4,0.6,0.8,1,1.2,1.4,1.6,1.8,2,2.2,2.4,2.6,2.8,3,3.2,3.4,3.6,3.8,4],"tickSize":{"condition":{"test":"abs(datum.value - round(datum.value)) < 1e-6","value":-6},"value":-3}}},
      "y":{"field":"alt","type":"quantitative","scale":{"domain":[0,4],"nice":false},"axis":{"orient":"left","title":null,"labels":false,"tickValues":[0,0.25,0.5,0.75,1,1.25,1.5,1.75,2,2.25,2.5,2.75,3,3.25,3.5,3.75,4],"tickSize":{"condition":{"test":"datum.value % 1 === 0","value":-6},"value":-3}}},
      "color":{"field":"ser","type":"nominal","title":null,"scale":{"domain":["Obs","Obs w/ HNO₃ by CIT","base","no_hydro"],"range":["#000000","#000000","#e8161d","#3aa53a"]}},
      "strokeDash":{"field":"ser","type":"nominal","title":null,"scale":{"domain":["Obs","Obs w/ HNO₃ by CIT","base","no_hydro"],"range":[[1,0],[9,5],[1,0],[1,0]]}},
      "order":{"field":"alt","type":"quantitative"}}},
    {"mark":{"type":"point","opacity":0},
     "encoding":{
      "x":{"field":"val","type":"quantitative","title":null,"axis":{"orient":"top","labels":false,"tickValues":[0,0.2,0.4,0.6,0.8,1,1.2,1.4,1.6,1.8,2,2.2,2.4,2.6,2.8,3,3.2,3.4,3.6,3.8,4],"tickSize":{"condition":{"test":"abs(datum.value - round(datum.value)) < 1e-6","value":-6},"value":-3}}},
      "y":{"field":"alt","type":"quantitative","title":null,"axis":{"orient":"right","labels":false,"tickValues":[0,0.25,0.5,0.75,1,1.25,1.5,1.75,2,2.25,2.5,2.75,3,3.25,3.5,3.75,4],"tickSize":{"condition":{"test":"datum.value % 1 === 0","value":-6},"value":-3}}}}}
   ],
   "resolve":{"axis":{"x":"independent","y":"independent"}}
  }
 ]},
{"title":{"text":"SENEX (2013)","anchor":"start","offset":4,"dx":57},
 "spacing":22,
 "hconcat":[
  {"width":160,"height":227,
   "transform":[{"filter":"datum.camp === 'SENEX' && datum.spec === 'O3'"}],
   "layer":[
    {"mark":{"type":"line","strokeWidth":2.6},
     "encoding":{
      "x":{"field":"val","type":"quantitative","title":null,"scale":{"domain":[20,80],"nice":false,"zero":false},"axis":{"orient":"bottom","format":"d","labelExpr":"datum.value % 20 === 0 ? datum.label : ''","tickValues":[20,22,24,26,28,30,32,34,36,38,40,42,44,46,48,50,52,54,56,58,60,62,64,66,68,70,72,74,76,78,80],"tickSize":{"condition":{"test":"datum.value % 10 === 0","value":-6},"value":-3}}},
      "y":{"field":"alt","type":"quantitative","scale":{"domain":[0,4],"nice":false},"axis":{"orient":"left","title":"Altitude (km)","tickValues":[0,0.25,0.5,0.75,1,1.25,1.5,1.75,2,2.25,2.5,2.75,3,3.25,3.5,3.75,4],"tickSize":{"condition":{"test":"datum.value % 1 === 0","value":-6},"value":-3},"labelExpr":"datum.value % 1 === 0 ? datum.label : ''","format":"d"}},
      "color":{"field":"ser","type":"nominal","title":null,"scale":{"domain":["Obs","Obs w/ HNO₃ by CIT","base","no_hydro"],"range":["#000000","#000000","#e8161d","#3aa53a"]}},
      "strokeDash":{"field":"ser","type":"nominal","title":null,"scale":{"domain":["Obs","Obs w/ HNO₃ by CIT","base","no_hydro"],"range":[[1,0],[9,5],[1,0],[1,0]]}},
      "order":{"field":"alt","type":"quantitative"}}},
    {"mark":{"type":"point","opacity":0},
     "encoding":{
      "x":{"field":"val","type":"quantitative","title":null,"axis":{"orient":"top","labels":false,"tickValues":[20,22,24,26,28,30,32,34,36,38,40,42,44,46,48,50,52,54,56,58,60,62,64,66,68,70,72,74,76,78,80],"tickSize":{"condition":{"test":"datum.value % 10 === 0","value":-6},"value":-3}}},
      "y":{"field":"alt","type":"quantitative","title":null,"axis":{"orient":"right","labels":false,"tickValues":[0,0.25,0.5,0.75,1,1.25,1.5,1.75,2,2.25,2.5,2.75,3,3.25,3.5,3.75,4],"tickSize":{"condition":{"test":"datum.value % 1 === 0","value":-6},"value":-3}}}}}
   ],
   "resolve":{"axis":{"x":"independent","y":"independent"}}
  },
  {"width":160,"height":227,
   "transform":[{"filter":"datum.camp === 'SENEX' && datum.spec === 'NOx'"}],
   "layer":[
    {"mark":{"type":"line","strokeWidth":2.6},
     "encoding":{
      "x":{"field":"val","type":"quantitative","title":null,"scale":{"domain":[0,1.2],"nice":false,"zero":false},"axis":{"orient":"bottom","format":".1f","labelExpr":"indexof([0.2,0.6,1], datum.value) >= 0 ? datum.label : ''","tickValues":[0,0.05,0.1,0.15,0.2,0.25,0.3,0.35,0.4,0.45,0.5,0.55,0.6,0.65,0.7,0.75,0.8,0.85,0.9,0.95,1,1.05,1.1,1.15,1.2],"tickSize":{"condition":{"test":"abs(datum.value*5 - round(datum.value*5)) < 1e-6","value":-6},"value":-3}}},
      "y":{"field":"alt","type":"quantitative","scale":{"domain":[0,4],"nice":false},"axis":{"orient":"left","title":null,"labels":false,"tickValues":[0,0.25,0.5,0.75,1,1.25,1.5,1.75,2,2.25,2.5,2.75,3,3.25,3.5,3.75,4],"tickSize":{"condition":{"test":"datum.value % 1 === 0","value":-6},"value":-3}}},
      "color":{"field":"ser","type":"nominal","title":null,"scale":{"domain":["Obs","Obs w/ HNO₃ by CIT","base","no_hydro"],"range":["#000000","#000000","#e8161d","#3aa53a"]}},
      "strokeDash":{"field":"ser","type":"nominal","title":null,"scale":{"domain":["Obs","Obs w/ HNO₃ by CIT","base","no_hydro"],"range":[[1,0],[9,5],[1,0],[1,0]]}},
      "order":{"field":"alt","type":"quantitative"}}},
    {"mark":{"type":"point","opacity":0},
     "encoding":{
      "x":{"field":"val","type":"quantitative","title":null,"axis":{"orient":"top","labels":false,"tickValues":[0,0.05,0.1,0.15,0.2,0.25,0.3,0.35,0.4,0.45,0.5,0.55,0.6,0.65,0.7,0.75,0.8,0.85,0.9,0.95,1,1.05,1.1,1.15,1.2],"tickSize":{"condition":{"test":"abs(datum.value*5 - round(datum.value*5)) < 1e-6","value":-6},"value":-3}}},
      "y":{"field":"alt","type":"quantitative","title":null,"axis":{"orient":"right","labels":false,"tickValues":[0,0.25,0.5,0.75,1,1.25,1.5,1.75,2,2.25,2.5,2.75,3,3.25,3.5,3.75,4],"tickSize":{"condition":{"test":"datum.value % 1 === 0","value":-6},"value":-3}}}}}
   ],
   "resolve":{"axis":{"x":"independent","y":"independent"}}
  },
  {"width":160,"height":227,
   "transform":[{"filter":"datum.camp === 'SENEX' && datum.spec === 'HNO3'"}],
   "layer":[
    {"mark":{"type":"line","strokeWidth":2.6},
     "encoding":{
      "x":{"field":"val","type":"quantitative","title":null,"scale":{"domain":[0,2],"nice":false,"zero":false},"axis":{"orient":"bottom","format":".1f","labelExpr":"abs(datum.value - round(datum.value)) < 1e-6 ? datum.label : ''","tickValues":[0,0.1,0.2,0.3,0.4,0.5,0.6,0.7,0.8,0.9,1,1.1,1.2,1.3,1.4,1.5,1.6,1.7,1.8,1.9,2],"tickSize":{"condition":{"test":"abs(datum.value*2 - round(datum.value*2)) < 1e-6","value":-6},"value":-3}}},
      "y":{"field":"alt","type":"quantitative","scale":{"domain":[0,4],"nice":false},"axis":{"orient":"left","title":null,"labels":false,"tickValues":[0,0.25,0.5,0.75,1,1.25,1.5,1.75,2,2.25,2.5,2.75,3,3.25,3.5,3.75,4],"tickSize":{"condition":{"test":"datum.value % 1 === 0","value":-6},"value":-3}}},
      "color":{"field":"ser","type":"nominal","title":null,"scale":{"domain":["Obs","Obs w/ HNO₃ by CIT","base","no_hydro"],"range":["#000000","#000000","#e8161d","#3aa53a"]}},
      "strokeDash":{"field":"ser","type":"nominal","title":null,"scale":{"domain":["Obs","Obs w/ HNO₃ by CIT","base","no_hydro"],"range":[[1,0],[9,5],[1,0],[1,0]]}},
      "order":{"field":"alt","type":"quantitative"}}},
    {"mark":{"type":"point","opacity":0},
     "encoding":{
      "x":{"field":"val","type":"quantitative","title":null,"axis":{"orient":"top","labels":false,"tickValues":[0,0.1,0.2,0.3,0.4,0.5,0.6,0.7,0.8,0.9,1,1.1,1.2,1.3,1.4,1.5,1.6,1.7,1.8,1.9,2],"tickSize":{"condition":{"test":"abs(datum.value*2 - round(datum.value*2)) < 1e-6","value":-6},"value":-3}}},
      "y":{"field":"alt","type":"quantitative","title":null,"axis":{"orient":"right","labels":false,"tickValues":[0,0.25,0.5,0.75,1,1.25,1.5,1.75,2,2.25,2.5,2.75,3,3.25,3.5,3.75,4],"tickSize":{"condition":{"test":"datum.value % 1 === 0","value":-6},"value":-3}}}}}
   ],
   "resolve":{"axis":{"x":"independent","y":"independent"}}
  },
  {"width":160,"height":227,
   "transform":[{"filter":"datum.camp === 'SENEX' && datum.spec === 'PAN'"}],
   "layer":[
    {"mark":{"type":"line","strokeWidth":2.6},
     "encoding":{
      "x":{"field":"val","type":"quantitative","title":null,"scale":{"domain":[0,1],"nice":false,"zero":false},"axis":{"orient":"bottom","format":".1f","labelExpr":"indexof([0.2,0.6,1], datum.value) >= 0 ? datum.label : ''","tickValues":[0,0.05,0.1,0.15,0.2,0.25,0.3,0.35,0.4,0.45,0.5,0.55,0.6,0.65,0.7,0.75,0.8,0.85,0.9,0.95,1],"tickSize":{"condition":{"test":"abs(datum.value*5 - round(datum.value*5)) < 1e-6","value":-6},"value":-3}}},
      "y":{"field":"alt","type":"quantitative","scale":{"domain":[0,4],"nice":false},"axis":{"orient":"left","title":null,"labels":false,"tickValues":[0,0.25,0.5,0.75,1,1.25,1.5,1.75,2,2.25,2.5,2.75,3,3.25,3.5,3.75,4],"tickSize":{"condition":{"test":"datum.value % 1 === 0","value":-6},"value":-3}}},
      "color":{"field":"ser","type":"nominal","title":null,"scale":{"domain":["Obs","Obs w/ HNO₃ by CIT","base","no_hydro"],"range":["#000000","#000000","#e8161d","#3aa53a"]}},
      "strokeDash":{"field":"ser","type":"nominal","title":null,"scale":{"domain":["Obs","Obs w/ HNO₃ by CIT","base","no_hydro"],"range":[[1,0],[9,5],[1,0],[1,0]]}},
      "order":{"field":"alt","type":"quantitative"}}},
    {"mark":{"type":"point","opacity":0},
     "encoding":{
      "x":{"field":"val","type":"quantitative","title":null,"axis":{"orient":"top","labels":false,"tickValues":[0,0.05,0.1,0.15,0.2,0.25,0.3,0.35,0.4,0.45,0.5,0.55,0.6,0.65,0.7,0.75,0.8,0.85,0.9,0.95,1],"tickSize":{"condition":{"test":"abs(datum.value*5 - round(datum.value*5)) < 1e-6","value":-6},"value":-3}}},
      "y":{"field":"alt","type":"quantitative","title":null,"axis":{"orient":"right","labels":false,"tickValues":[0,0.25,0.5,0.75,1,1.25,1.5,1.75,2,2.25,2.5,2.75,3,3.25,3.5,3.75,4],"tickSize":{"condition":{"test":"datum.value % 1 === 0","value":-6},"value":-3}}}}}
   ],
   "resolve":{"axis":{"x":"independent","y":"independent"}}
  },
  {"width":160,"height":227,
   "transform":[{"filter":"datum.camp === 'SENEX' && datum.spec === 'ANs'"}],
   "layer":[
    {"mark":{"type":"line","strokeWidth":2.6},
     "encoding":{
      "x":{"field":"val","type":"quantitative","title":null,"scale":{"domain":[0,0.5],"nice":false,"zero":false},"axis":{"orient":"bottom","format":".1f","labelExpr":"indexof([0.1,0.3,0.5], datum.value) >= 0 ? datum.label : ''","tickValues":[0,0.01,0.02,0.03,0.04,0.05,0.06,0.07,0.08,0.09,0.1,0.11,0.12,0.13,0.14,0.15,0.16,0.17,0.18,0.19,0.2,0.21,0.22,0.23,0.24,0.25,0.26,0.27,0.28,0.29,0.3,0.31,0.32,0.33,0.34,0.35,0.36,0.37,0.38,0.39,0.4,0.41,0.42,0.43,0.44,0.45,0.46,0.47,0.48,0.49,0.5],"tickSize":{"condition":{"test":"abs(datum.value*10 - round(datum.value*10)) < 1e-6","value":-6},"value":-3}}},
      "y":{"field":"alt","type":"quantitative","scale":{"domain":[0,4],"nice":false},"axis":{"orient":"left","title":null,"labels":false,"tickValues":[0,0.25,0.5,0.75,1,1.25,1.5,1.75,2,2.25,2.5,2.75,3,3.25,3.5,3.75,4],"tickSize":{"condition":{"test":"datum.value % 1 === 0","value":-6},"value":-3}}},
      "color":{"field":"ser","type":"nominal","title":null,"scale":{"domain":["Obs","Obs w/ HNO₃ by CIT","base","no_hydro"],"range":["#000000","#000000","#e8161d","#3aa53a"]}},
      "strokeDash":{"field":"ser","type":"nominal","title":null,"scale":{"domain":["Obs","Obs w/ HNO₃ by CIT","base","no_hydro"],"range":[[1,0],[9,5],[1,0],[1,0]]}},
      "order":{"field":"alt","type":"quantitative"}}},
    {"mark":{"type":"point","opacity":0},
     "encoding":{
      "x":{"field":"val","type":"quantitative","title":null,"axis":{"orient":"top","labels":false,"tickValues":[0,0.01,0.02,0.03,0.04,0.05,0.06,0.07,0.08,0.09,0.1,0.11,0.12,0.13,0.14,0.15,0.16,0.17,0.18,0.19,0.2,0.21,0.22,0.23,0.24,0.25,0.26,0.27,0.28,0.29,0.3,0.31,0.32,0.33,0.34,0.35,0.36,0.37,0.38,0.39,0.4,0.41,0.42,0.43,0.44,0.45,0.46,0.47,0.48,0.49,0.5],"tickSize":{"condition":{"test":"abs(datum.value*10 - round(datum.value*10)) < 1e-6","value":-6},"value":-3}}},
      "y":{"field":"alt","type":"quantitative","title":null,"axis":{"orient":"right","labels":false,"tickValues":[0,0.25,0.5,0.75,1,1.25,1.5,1.75,2,2.25,2.5,2.75,3,3.25,3.5,3.75,4],"tickSize":{"condition":{"test":"datum.value % 1 === 0","value":-6},"value":-3}}}}}
   ],
   "resolve":{"axis":{"x":"independent","y":"independent"}}
  },
  {"width":160,"height":227,
   "transform":[{"filter":"datum.camp === 'SENEX' && datum.spec === 'NOy'"}],
   "layer":[
    {"mark":{"type":"line","strokeWidth":2.6},
     "encoding":{
      "x":{"field":"val","type":"quantitative","title":null,"scale":{"domain":[0,4],"nice":false,"zero":false},"axis":{"orient":"bottom","format":"d","labelExpr":"abs(datum.value - round(datum.value)) < 1e-6 ? datum.label : ''","tickValues":[0,0.2,0.4,0.6,0.8,1,1.2,1.4,1.6,1.8,2,2.2,2.4,2.6,2.8,3,3.2,3.4,3.6,3.8,4],"tickSize":{"condition":{"test":"abs(datum.value - round(datum.value)) < 1e-6","value":-6},"value":-3}}},
      "y":{"field":"alt","type":"quantitative","scale":{"domain":[0,4],"nice":false},"axis":{"orient":"left","title":null,"labels":false,"tickValues":[0,0.25,0.5,0.75,1,1.25,1.5,1.75,2,2.25,2.5,2.75,3,3.25,3.5,3.75,4],"tickSize":{"condition":{"test":"datum.value % 1 === 0","value":-6},"value":-3}}},
      "color":{"field":"ser","type":"nominal","title":null,"scale":{"domain":["Obs","Obs w/ HNO₃ by CIT","base","no_hydro"],"range":["#000000","#000000","#e8161d","#3aa53a"]}},
      "strokeDash":{"field":"ser","type":"nominal","title":null,"scale":{"domain":["Obs","Obs w/ HNO₃ by CIT","base","no_hydro"],"range":[[1,0],[9,5],[1,0],[1,0]]}},
      "order":{"field":"alt","type":"quantitative"}}},
    {"mark":{"type":"point","opacity":0},
     "encoding":{
      "x":{"field":"val","type":"quantitative","title":null,"axis":{"orient":"top","labels":false,"tickValues":[0,0.2,0.4,0.6,0.8,1,1.2,1.4,1.6,1.8,2,2.2,2.4,2.6,2.8,3,3.2,3.4,3.6,3.8,4],"tickSize":{"condition":{"test":"abs(datum.value - round(datum.value)) < 1e-6","value":-6},"value":-3}}},
      "y":{"field":"alt","type":"quantitative","title":null,"axis":{"orient":"right","labels":false,"tickValues":[0,0.25,0.5,0.75,1,1.25,1.5,1.75,2,2.25,2.5,2.75,3,3.25,3.5,3.75,4],"tickSize":{"condition":{"test":"datum.value % 1 === 0","value":-6},"value":-3}}}}}
   ],
   "resolve":{"axis":{"x":"independent","y":"independent"}}
  }
 ]}
],
"config":{
 "font":"Liberation Sans",
 "view":{"stroke":"#111111","strokeWidth":1.3},
 "axis":{"domain":false,"grid":false,"minExtent":0,"labelFont":"Liberation Sans","labelFontSize":25,"labelColor":"#222222","labelOverlap":false,"labelBound":false,"labelPadding":9,"tickColor":"#111111","tickWidth":1.2,"titleFont":"Liberation Sans","titleFontSize":26.5,"titleFontWeight":"normal","titleColor":"#222222","titlePadding":12},
 "axisY":{"labelFlush":true,"minExtent":0},
 "axisX":{"minExtent":0,"labelPadding":6},
 "legend":{"orient":"none","legendX":202,"legendY":-33,"direction":"horizontal","columns":4,"symbolType":"stroke","symbolSize":1225,"symbolStrokeWidth":3,"labelFont":"Liberation Sans","labelFontSize":26,"labelColor":"#222222","labelOffset":12,"columnPadding":24,"labelLimit":400},
 "title":{"font":"Liberation Sans","fontSize":25,"fontWeight":"normal","color":"#333333","anchor":"start","subtitleFont":"Liberation Sans"}
}
}
